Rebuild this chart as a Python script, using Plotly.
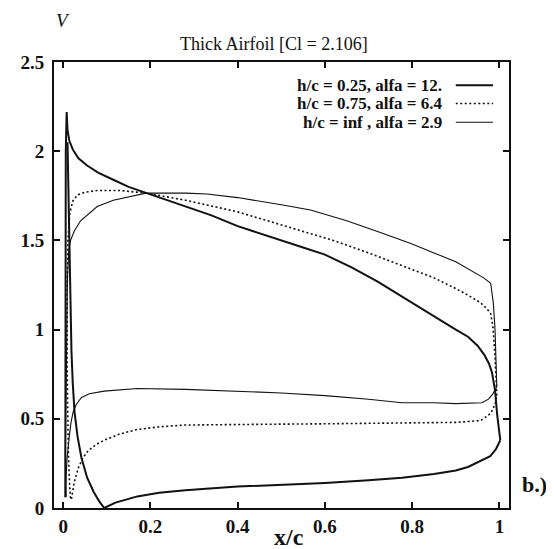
import plotly.graph_objects as go

# ---- data ----
# h/c = 0.25, alfa = 12. (thick solid)
xc_025_upper = [1.002, 0.995, 0.99, 0.983, 0.976, 0.965, 0.95, 0.928, 0.90, 0.86, 0.82, 0.777, 0.72, 0.66, 0.60,
                0.55, 0.50, 0.45, 0.40, 0.34, 0.281, 0.23, 0.19, 0.15, 0.115, 0.08, 0.055, 0.035, 0.022, 0.014,
                0.010, 0.008, 0.006, 0.005, 0.005, 0.006]
v_025_upper = [0.38, 0.52, 0.66, 0.76, 0.81, 0.86, 0.91, 0.96, 1.00, 1.06, 1.12, 1.18, 1.27, 1.35, 1.42,
               1.46, 1.50, 1.54, 1.58, 1.64, 1.69, 1.73, 1.765, 1.80, 1.84, 1.88, 1.92, 1.96, 2.01, 2.06,
               2.12, 2.22, 2.0, 1.0, 0.3, 0.06]
xc_025_lower = [0.010, 0.013, 0.016, 0.019, 0.022, 0.026, 0.033, 0.042, 0.055, 0.070, 0.082, 0.094, 0.12, 0.17,
                0.22, 0.28, 0.4, 0.5, 0.6, 0.7, 0.777, 0.85, 0.9, 0.928, 0.955, 0.979, 0.992, 1.002]
v_025_lower = [2.05, 1.6, 1.2, 0.88, 0.70, 0.54, 0.40, 0.28, 0.17, 0.09, 0.04, 0.0, 0.03, 0.065,
               0.085, 0.10, 0.12, 0.13, 0.14, 0.155, 0.17, 0.19, 0.21, 0.23, 0.26, 0.29, 0.33, 0.38]

# h/c = 0.75, alfa = 6.4 (dotted)
xc_075 = [0.994, 0.99, 0.985, 0.98, 0.97, 0.957, 0.93, 0.9, 0.85, 0.777, 0.70, 0.619, 0.55, 0.5, 0.4, 0.281,
          0.19, 0.13, 0.078, 0.05, 0.033, 0.022, 0.015, 0.011, 0.009, 0.009, 0.010, 0.012, 0.015, 0.017,
          0.019, 0.025, 0.034, 0.045, 0.057, 0.075, 0.094, 0.13, 0.17, 0.22, 0.28, 0.4, 0.5, 0.6, 0.777,
          0.9, 0.957, 0.98, 0.99, 0.994]
v_075 = [0.63, 0.85, 1.02, 1.09, 1.12, 1.15, 1.19, 1.23, 1.29, 1.36, 1.43, 1.50, 1.55, 1.59, 1.66, 1.725,
         1.765, 1.78, 1.78, 1.77, 1.755, 1.72, 1.65, 1.5, 1.2, 0.8, 0.5, 0.3, 0.12, 0.047,
         0.05, 0.14, 0.22, 0.28, 0.32, 0.355, 0.38, 0.415, 0.44, 0.455, 0.465, 0.47, 0.47, 0.472, 0.475,
         0.48, 0.49, 0.53, 0.58, 0.63]

# h/c = inf, alfa = 2.9 (thin solid)
xc_inf = [0.994, 0.992, 0.99, 0.986, 0.98, 0.964, 0.93, 0.9, 0.85, 0.8, 0.732, 0.65, 0.567, 0.5, 0.4, 0.33,
          0.281, 0.19, 0.115, 0.078, 0.04, 0.025, 0.017, 0.013, 0.010, 0.008, 0.006, 0.005, 0.004,
          0.006, 0.009, 0.014, 0.018, 0.023, 0.03, 0.042, 0.06, 0.094, 0.17, 0.28, 0.4, 0.5, 0.6, 0.7,
          0.777, 0.85, 0.9, 0.96, 0.975, 0.985, 0.994]
v_inf = [0.68, 0.85, 1.0, 1.15, 1.26, 1.29, 1.34, 1.38, 1.43, 1.48, 1.54, 1.61, 1.67, 1.70, 1.74, 1.76,
         1.765, 1.765, 1.725, 1.69, 1.61, 1.55, 1.50, 1.45, 1.3, 1.0, 0.6, 0.3, 0.06,
         0.15, 0.28, 0.40, 0.48, 0.54, 0.58, 0.62, 0.64, 0.655, 0.67, 0.665, 0.655, 0.645, 0.63, 0.61,
         0.59, 0.59, 0.585, 0.59, 0.61, 0.64, 0.68]

legend_labels = ["h/c = 0.25, alfa = 12.", "h/c = 0.75, alfa = 6.4", "h/c = inf , alfa = 2.9"]
x_ticks = [0, 0.2, 0.4, 0.6, 0.8, 1]
y_ticks = [0, 0.5, 1, 1.5, 2, 2.5]

INK = "#111111"
SERIF = "Liberation Serif, Times New Roman, serif"

fig = go.Figure()
fig.add_trace(go.Scatter(x=xc_025_upper + [None] + xc_025_lower, y=v_025_upper + [None] + v_025_lower,
                         mode="lines", line=dict(color=INK, width=2), name=legend_labels[0]))
fig.add_trace(go.Scatter(x=xc_075, y=v_075, mode="lines",
                         line=dict(color=INK, width=1.6, dash="2px,2.5px"), name=legend_labels[1]))
fig.add_trace(go.Scatter(x=xc_inf, y=v_inf, mode="lines", line=dict(color=INK, width=1.1),
                         name=legend_labels[2]))

axis_common = dict(showline=True, linecolor=INK, linewidth=2, mirror="ticks", ticks="inside",
                   ticklen=6, tickwidth=1.5, tickcolor=INK, showgrid=False, zeroline=False,
                   tickfont=dict(family=SERIF, size=19, color=INK, weight="bold"))
fig.update_xaxes(range=[-0.021, 1.022], tickvals=x_ticks, **axis_common)
fig.update_yaxes(range=[0, 2.5], tickvals=y_ticks, ticklabelstandoff=4, **axis_common)

# legend (text right-aligned, sample line to the right)
row_y = [0.948, 0.907, 0.865]
dashes = ["solid", "2px,2.5px", "solid"]
widths = [2, 1.6, 1.1]
for lab, yy, d, w in zip(legend_labels, row_y, dashes, widths):
    fig.add_annotation(xref="paper", yref="paper", x=0.858, y=yy, text=lab, showarrow=False,
                       xanchor="right", yanchor="middle",
                       font=dict(family=SERIF, size=17, color=INK, weight="bold"))
    fig.add_shape(type="line", xref="paper", yref="paper", x0=0.883, x1=0.965, y0=yy, y1=yy,
                  line=dict(color=INK, width=w, dash=d))

fig.add_annotation(xref="paper", yref="paper", x=0.484, y=1.04, text="Thick Airfoil [Cl = 2.106]",
                   showarrow=False, xanchor="center", yanchor="middle",
                   font=dict(family=SERIF, size=18, color=INK))
fig.add_annotation(xref="paper", yref="paper", x=0.02, y=1.093, text="<i>V</i>", showarrow=False,
                   xanchor="center", yanchor="middle", font=dict(family=SERIF, size=19, color=INK))
fig.add_annotation(xref="paper", yref="paper", x=0.516, y=-0.066, text="<b>x/c</b>", showarrow=False,
                   xanchor="center", yanchor="middle", font=dict(family=SERIF, size=24, color=INK))
fig.add_annotation(xref="paper", yref="paper", x=1.056, y=0.052, text="<b>b.)</b>", showarrow=False,
                   xanchor="center", yanchor="middle", font=dict(family=SERIF, size=22, color=INK))

# page body has an 8px margin: shrink the figure so the plot lands where it does in the reference
fig.update_layout(width=546, height=541, margin=dict(l=38, r=45, t=54, b=41),
                  paper_bgcolor="white", plot_bgcolor="white", showlegend=False)

fig.write_html("out.html")
